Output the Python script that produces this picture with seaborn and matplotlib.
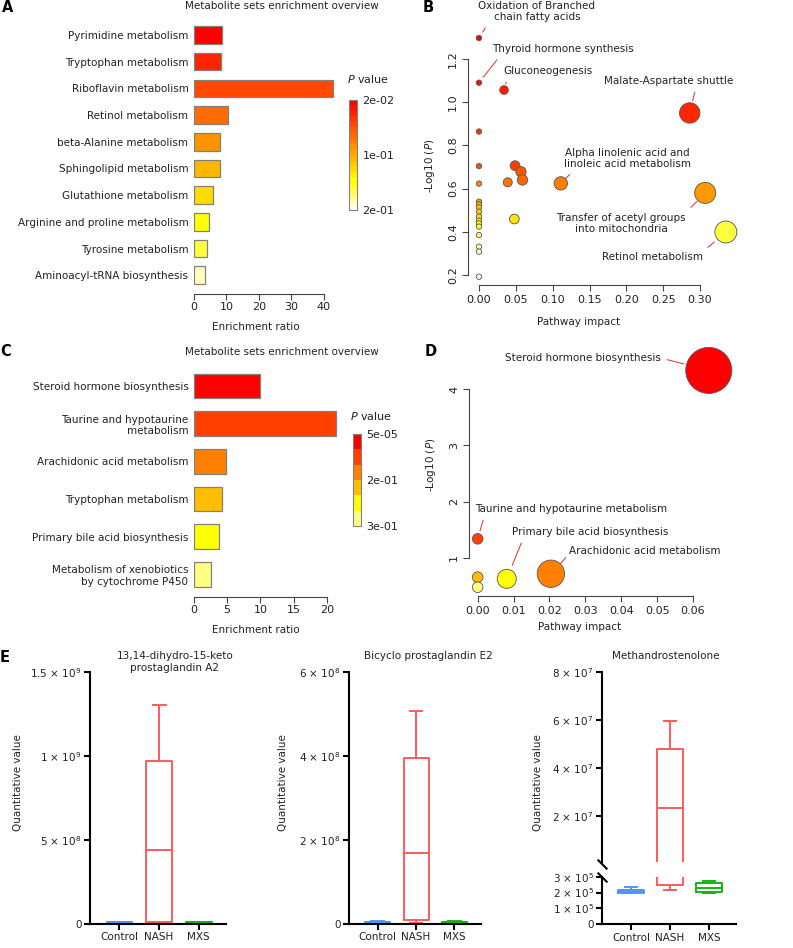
import colorsys
import numpy as np
import pandas as pd
import seaborn as sns
import matplotlib.pyplot as plt
from matplotlib.colors import ListedColormap, Normalize
from matplotlib.cm import ScalarMappable
from matplotlib.ticker import FuncFormatter

# ---- data -------------------------------------------------------------
a_pathways = ['Pyrimidine metabolism', 'Tryptophan metabolism', 'Riboflavin metabolism',
              'Retinol metabolism', 'beta-Alanine metabolism', 'Sphingolipid metabolism',
              'Glutathione metabolism', 'Arginine and proline metabolism',
              'Tyrosine metabolism', 'Aminoacyl-tRNA biosynthesis']
a_ratio = [8.7, 8.3, 42.9, 10.6, 8.1, 8.1, 6.0, 4.5, 4.1, 3.5]
a_pvalue = [0.02, 0.03, 0.045, 0.06, 0.08, 0.09, 0.12, 0.15, 0.17, 0.2]

c_pathways = ['Steroid hormone biosynthesis', 'Taurine and hypotaurine\nmetabolism',
              'Arachidonic acid metabolism', 'Tryptophan metabolism',
              'Primary bile acid biosynthesis', 'Metabolism of xenobiotics\nby cytochrome P450']
c_ratio = [10.0, 21.4, 4.76, 4.16, 3.7, 2.56]
c_pvalue = [4.7e-5, 0.046, 0.19, 0.22, 0.23, 0.33]

b_impact = [0, 0, 0, 0, 0, 0, 0, 0, 0, 0, 0, 0, 0, 0, 0, 0, 0,
            0.034, 0.286, 0.049, 0.057, 0.059, 0.039, 0.111, 0.307, 0.048, 0.335]
b_logp = [1.297, 1.09, 0.864, 0.704, 0.623, 0.539, 0.527, 0.513, 0.493, 0.470, 0.451,
          0.439, 0.424, 0.385, 0.331, 0.308, 0.192,
          1.056, 0.95, 0.706, 0.678, 0.64, 0.629, 0.624, 0.58, 0.459, 0.399]

d_names = ['Steroid hormone biosynthesis', 'Taurine and hypotaurine metabolism',
           'Tryptophan metabolism', 'Metabolism of xenobiotics',
           'Primary bile acid biosynthesis', 'Arachidonic acid metabolism']
d_impact = [0.0644, 0, 0, 0, 0.0081, 0.0204]
d_logp = [4.33, 1.34, 0.66, 0.48, 0.63, 0.72]

e_groups = ['Control', 'NASH', 'MXS']
e_colors = ['#4f97f2', '#ff5a5f', '#14b414']
e1_title = '13,14-dihydro-15-keto\nprostaglandin A2'
e1_values = [[0.004e9, 0.006e9, 0.008e9, 0.010e9, 0.013e9],
             [0.003e9, 0.014e9, 0.44e9, 0.968e9, 1.304e9],
             [0.005e9, 0.007e9, 0.009e9, 0.011e9, 0.014e9]]
e2_title = 'Bicyclo prostaglandin E2'
e2_values = [[0.02e8, 0.035e8, 0.045e8, 0.055e8, 0.07e8],
             [0.02e8, 0.095e8, 1.69e8, 3.96e8, 5.07e8],
             [0.02e8, 0.035e8, 0.045e8, 0.055e8, 0.07e8]]
e3_title = 'Methandrostenolone'
e3_values = [[1.97e5, 2.0e5, 2.08e5, 2.16e5, 2.37e5],
             [2.16e5, 2.48e5, 2.33e7, 4.79e7, 5.97e7],
             [1.99e5, 2.05e5, 2.31e5, 2.58e5, 2.73e5]]

# ---- style ------------------------------------------------------------
plt.rcParams['font.family'] = ['DejaVu Sans']
plt.rcParams['font.size'] = 7.5
plt.rcParams['mathtext.fontset'] = 'dejavusans'
TXT = '#222222'
W, H = 793, 948
fig = plt.figure(figsize=(W / 100, H / 100), dpi=100)


def add_ax(l, t, r, b):
    return fig.add_axes([l / W, 1 - b / H, (r - l) / W, (b - t) / H])


def heat_colors(n):
    # same ramp as R's heat.colors()
    j = n // 4
    i = n - j
    cols = [colorsys.hsv_to_rgb(h, 1, 1) for h in np.linspace(0, 1 / 6, i)]
    if j > 0:
        cols += [colorsys.hsv_to_rgb(1 / 6, s, 1)
                 for s in np.linspace(1 - 1 / (2 * j), 1 / (2 * j), j)]
    return cols


def fig_text(x, y, s, **kw):
    fig.text(x / W, 1 - y / H, s, **kw)


def enrichment_panel(box, names, ratio, pvals, xmax, ticks, ylims, cbox, ncb, ptitle_xy):
    ax = add_ax(*box)
    df = pd.DataFrame({'pathway': names, 'ratio': ratio})
    sns.barplot(data=df, x='ratio', y='pathway', hue='pathway', palette=heat_colors(len(names)),
                saturation=1, legend=False, width=0.66, edgecolor='grey', linewidth=0.9, ax=ax)
    ax.set_xlim(0, xmax)
    ax.set_ylim(*ylims)
    for s in ['top', 'right', 'left']:
        ax.spines[s].set_visible(False)
    ax.spines['bottom'].set_bounds(ticks[0], ticks[-1])
    ax.spines['bottom'].set_color('#444444')
    ax.set_xticks(ticks)
    ax.tick_params(axis='x', length=4, width=0.8, color='#444444', pad=2, labelsize=8,
                   labelcolor=TXT)
    ax.tick_params(axis='y', length=0, pad=4, labelcolor=TXT)
    ax.set_ylabel('')
    ax.set_xlabel('Enrichment ratio', color=TXT)
    ax.xaxis.set_label_coords(0.42, -0.1 * 278 / (box[3] - box[1]))
    # colour key
    cax = add_ax(*cbox)
    pmin, pmax = min(pvals), max(pvals)
    sm = ScalarMappable(norm=Normalize(pmin, pmax), cmap=ListedColormap(heat_colors(ncb)))
    cb = fig.colorbar(sm, cax=cax)
    cax.invert_yaxis()
    mid = (pmin + pmax) / 2
    cb.set_ticks([pmin, mid, pmax])
    cb.set_ticklabels([f'{v:.0e}' for v in (pmin, mid, pmax)])
    cax.tick_params(length=0, pad=4, labelsize=8, labelcolor=TXT)
    cb.outline.set_edgecolor('grey')
    cb.outline.set_linewidth(0.8)
    fig_text(*ptitle_xy, r'$\mathit{P}$ value', ha='center', va='center', fontsize=8, color=TXT)
    return ax


def bubble_panel(box, lims, impact, logp, sizes, xticks, xbounds, yticks, ybounds, yfmt):
    ax = add_ax(*box)
    df = pd.DataFrame({'impact': impact, 'logp': logp})
    df['rank'] = df['logp'].rank(ascending=False, method='first')
    sns.scatterplot(data=df, x='impact', y='logp', hue='rank', palette=heat_colors(len(df)),
                    size='impact', sizes=sizes, size_norm=(0, max(impact)),
                    edgecolor='#555555', linewidth=0.6, alpha=1, legend=False, ax=ax, clip_on=False)
    ax.set_xlim(*lims[:2])
    ax.set_ylim(*lims[2:])
    for s in ['top', 'right']:
        ax.spines[s].set_visible(False)
    ax.spines['bottom'].set_bounds(*xbounds)
    ax.spines['left'].set_bounds(*ybounds)
    for s in ['bottom', 'left']:
        ax.spines[s].set_color('#444444')
        ax.spines[s].set_linewidth(0.8)
    ax.set_xticks(xticks)
    ax.set_xticklabels([f'{v:.2f}' for v in xticks])
    ax.set_yticks(yticks)
    ax.set_yticklabels([yfmt.format(v) for v in yticks], rotation=90, va='center')
    ax.tick_params(length=4, width=0.8, color='#444444', labelsize=8, labelcolor=TXT, pad=3)
    ax.set_xlabel('Pathway impact', color=TXT)
    ax.set_ylabel(r'-Log10 ($\mathit{P}$)', color=TXT)
    ax.xaxis.set_label_coords(0.40, -0.125)
    return ax


def note(ax, text, xy, xytext, relpos, shrinkB, shrinkA=2.5):
    ax.annotate(text, xy=xy, xytext=xytext, ha='center', va='center', color=TXT,
                annotation_clip=False, zorder=5,
                arrowprops=dict(arrowstyle='-', color='#f02828', lw=0.7,
                                relpos=relpos, shrinkA=shrinkA, shrinkB=shrinkB))


# ---- A ----------------------------------------------------------------
fig_text(282, 6, 'Metabolite sets enrichment overview', ha='center', va='center', color=TXT)
enrichment_panel((194, 16, 340, 294), a_pathways, a_ratio, a_pvalue, 45, [0, 10, 20, 30, 40],
                 (9.70, -0.71), (349, 100, 357, 210), 20, (368, 79))

# ---- C ----------------------------------------------------------------
fig_text(282, 352, 'Metabolite sets enrichment overview', ha='center', va='center', color=TXT)
enrichment_panel((194, 360, 340, 597), c_pathways, c_ratio, c_pvalue, 22, [0, 5, 10, 15, 20],
                 (5.6, -0.69), (353, 434, 361, 526), 6, (371, 416))

# ---- B ----------------------------------------------------------------
axB = bubble_panel((468, 30, 745, 285), (-0.0149, 0.361, 0.1537, 1.334), b_impact, b_logp,
                   (15, 250), [0, 0.05, 0.10, 0.15, 0.20, 0.25, 0.30], (0, 0.30),
                   [0.2, 0.4, 0.6, 0.8, 1.0, 1.2], (0.2, 1.2), '{:.1f}')
axB.yaxis.set_label_coords(-0.112, 0.467)
bx, by = b_impact, b_logp
note(axB, 'Oxidation of Branched\nchain fatty acids', (bx[0], by[0]), (0.0787, 1.42), (0.09, 0), 5)
note(axB, 'Thyroid hormone synthesis', (bx[1], by[1]), (0.114, 1.245), (0.065, 0), 5)
note(axB, 'Gluconeogenesis', (bx[17], by[17]), (0.0937, 1.144), (0.05, 0), 4.5)
note(axB, 'Malate-Aspartate shuttle', (bx[18], by[18]), (0.258, 1.098), (0.71, 0), 9)
note(axB, 'Alpha linolenic acid and\nlinoleic acid metabolism', (bx[23], by[23]),
     (0.2009, 0.739), (0.09, 0), 5)
note(axB, 'Transfer of acetyl groups\ninto mitochondria', (bx[24], by[24]),
     (0.1928, 0.4384), (1, 1), 8.5)
note(axB, 'Retinol metabolism', (bx[26], by[26]), (0.2348, 0.283), (1, 1), 11)

# ---- D ----------------------------------------------------------------
axD = bubble_panel((469, 340, 745, 596), (-0.00242, 0.0745, 0.325, 4.87), d_impact, d_logp,
                   (58, 1100), [0, 0.01, 0.02, 0.03, 0.04, 0.05, 0.06], (0, 0.06),
                   [1, 2, 3, 4], (1, 4), '{:g}')
axD.yaxis.set_label_coords(-0.112, 0.512)
axD.xaxis.set_label_coords(0.40, -0.10)
dx, dy = d_impact, d_logp
note(axD, d_names[0], (dx[0], dy[0]), (0.02935, 4.55), (1, 0.5), 18.5)
note(axD, d_names[1], (dx[1], dy[1]), (0.02613, 1.87), (0.05, 0), 6)
note(axD, d_names[4], (dx[4], dy[4]), (0.03144, 1.461), (0.073, 0), 10.5)
note(axD, d_names[5], (dx[5], dy[5]), (0.0466, 1.124), (0, 0.2), 10, shrinkA=0.5)

# ---- E ----------------------------------------------------------------
def sci(v, pos=None):
    if v == 0:
        return '0'
    e = int(np.floor(np.log10(abs(v)) + 1e-9))
    return rf'{v / 10 ** e:g} $\times$ 10$^{{{e}}}$'


def box_panel(ax, values, ylim, yticks, xaxis=True):
    df = pd.DataFrame({'group': np.repeat(e_groups, [len(v) for v in values]),
                       'value': np.concatenate(values)})
    sns.boxplot(data=df, x='group', y='value', hue='group', order=e_groups, hue_order=e_groups,
                palette=e_colors, fill=False, whis=(0, 100), width=0.65, linewidth=1.4,
                legend=False, ax=ax)
    ax.set_xlim(-0.745, 2.69)
    ax.set_ylim(*ylim)
    ax.set_yticks(yticks)
    ax.yaxis.set_major_formatter(FuncFormatter(sci))
    for s in ['top', 'right']:
        ax.spines[s].set_visible(False)
    for s in ['bottom', 'left']:
        ax.spines[s].set_linewidth(1.5)
    ax.tick_params(length=4, width=1.5, labelsize=7.5, labelcolor=TXT, pad=2)
    ax.set_xlabel('')
    ax.set_ylabel('')
    if not xaxis:
        ax.spines['bottom'].set_visible(False)
        ax.tick_params(axis='x', bottom=False, labelbottom=False)


ax1 = add_ax(90, 672, 226, 924)
box_panel(ax1, e1_values, (0, 1.5e9), [0, 5e8, 1e9, 1.5e9])
ax2 = add_ax(349, 672, 481, 924)
box_panel(ax2, e2_values, (0, 6e8), [0, 2e8, 4e8, 6e8])
ax3a = add_ax(602, 672, 736, 861.7)
box_panel(ax3a, e3_values, (7.5e5, 8e7), [2e7, 4e7, 6e7, 8e7], xaxis=False)
ax3b = add_ax(602, 876.7, 736, 924.3)
box_panel(ax3b, e3_values, (0, 3e5), [0, 1e5, 2e5, 3e5])
# axis break marks
mk = dict(marker=[(-1, 1), (1, -1)], markersize=7, mew=1.5, color='k', ls='none', clip_on=False)
ax3a.plot([0], [-0.01], transform=ax3a.transAxes, **mk)
ax3b.plot([0], [1.0], transform=ax3b.transAxes, **mk)

fig_text(175, 662, e1_title, ha='center', va='center', color=TXT, linespacing=1.15)
fig_text(428, 656, e2_title, ha='center', va='center', color=TXT)
fig_text(666, 656, e3_title, ha='center', va='center', color=TXT)
for x in (18, 283, 538):
    fig_text(x, 783, 'Quantitative value', rotation=90, ha='center', va='center', color=TXT)

# ---- panel letters ----------------------------------------------------
for letter, x, y in [('A', 2, 8), ('B', 423, 7), ('C', 0, 352), ('D', 425, 352), ('E', 0, 658)]:
    fig_text(x, y, letter, ha='left', va='center', fontsize=10.5, fontweight='bold')

fig.savefig('out.png', dpi=100)
